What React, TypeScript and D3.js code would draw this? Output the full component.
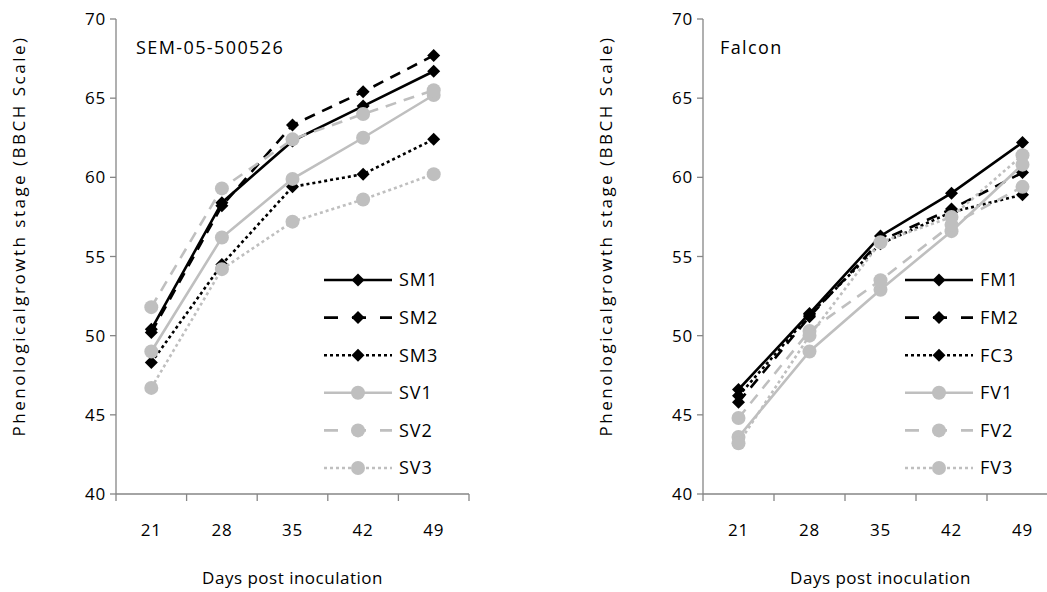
import React from "react";
import * as d3 from "d3";

const days = ["21", "28", "35", "42", "49"];
const yTicks = [40, 45, 50, 55, 60, 65, 70];

const leftNames = ["SM1", "SM2", "SM3", "SV1", "SV2", "SV3"];
const SM1 = [50.4, 58.4, 62.3, 64.5, 66.7];
const SM2 = [50.2, 58.2, 63.3, 65.4, 67.7];
const SM3 = [48.3, 54.5, 59.4, 60.2, 62.4];
const SV1 = [49.0, 56.2, 59.9, 62.5, 65.2];
const SV2 = [51.8, 59.3, 62.4, 64.0, 65.5];
const SV3 = [46.7, 54.2, 57.2, 58.6, 60.2];

const rightNames = ["FM1", "FM2", "FC3", "FV1", "FV2", "FV3"];
const FM1 = [46.6, 51.4, 56.3, 59.0, 62.2];
const FM2 = [45.8, 51.2, 56.0, 58.0, 60.3];
const FC3 = [46.2, 51.3, 55.8, 57.8, 58.9];
const FV1 = [43.6, 49.0, 52.9, 56.6, 60.8];
const FV2 = [44.8, 50.3, 53.5, 57.0, 59.4];
const FV3 = [43.2, 50.0, 55.9, 57.5, 61.4];

const styles = [
  { color: "#000000", dash: null, marker: "diamond" },
  { color: "#000000", dash: "11,8", marker: "diamond" },
  { color: "#000000", dash: "3,3", marker: "diamond" },
  { color: "#bfbfbf", dash: null, marker: "circle" },
  { color: "#bfbfbf", dash: "11,8", marker: "circle" },
  { color: "#bfbfbf", dash: "3,3", marker: "circle" },
];

const FONT = "'Open Sans', sans-serif";
const AXIS = "#868686";

function Marker({ x, y, kind, color }) {
  if (kind === "diamond") {
    const s = 6.5;
    return <path d={`M${x},${y - s}L${x + s},${y}L${x},${y + s}L${x - s},${y}Z`} fill={color} />;
  }
  return <circle cx={x} cy={y} r={7} fill={color} />;
}

function Panel({ x0, x1, yTop, yBot, names, series, label, titleX, labelX, legOff, legTextOff }) {
  const xs = d3.scaleBand().domain(days).range([x0, x1]).padding(0);
  const ys = d3.scaleLinear().domain([40, 70]).range([yBot, yTop]);
  const cx = (d) => xs(d) + xs.bandwidth() / 2;
  const line = d3.line().x((d, i) => cx(days[i])).y((d) => ys(d));
  const legX = x0 + legOff;
  const legY0 = 280;
  const legStep = 37.6;
  return (
    <g>
      <line x1={x0} x2={x0} y1={yTop} y2={yBot} stroke={AXIS} strokeWidth={1.3} />
      {yTicks.map((t) => (
        <g key={t}>
          <line x1={x0 - 6} x2={x0} y1={ys(t)} y2={ys(t)} stroke={AXIS} strokeWidth={1.3} />
          <text x={x0 - 10} y={ys(t)} dy="0.36em" textAnchor="end" fontSize={17} letterSpacing={0.8} fontFamily={FONT} fill="#000">
            {t}
          </text>
        </g>
      ))}
      <line x1={x0} x2={x1} y1={yBot} y2={yBot} stroke={AXIS} strokeWidth={1.3} />
      {days.map((d) => (
        <line key={"t" + d} x1={xs(d)} x2={xs(d)} y1={yBot} y2={yBot + 7} stroke={AXIS} strokeWidth={1.3} />
      ))}
      <line x1={x1} x2={x1} y1={yBot} y2={yBot + 7} stroke={AXIS} strokeWidth={1.3} />
      {days.map((d) => (
        <text key={"l" + d} x={cx(d)} y={yBot + 42} textAnchor="middle" fontSize={17} letterSpacing={0.8} fontFamily={FONT} fill="#000">
          {d}
        </text>
      ))}
      <text x={(x0 + x1) / 2} y={584} textAnchor="middle" fontSize={17} letterSpacing={0.5} fontFamily={FONT} fill="#000">
        Days post inoculation
      </text>
      <text
        transform={`translate(${labelX},${236}) rotate(-90)`}
        textAnchor="middle"
        fontSize={17}
        letterSpacing={2.5}
        fontFamily={FONT}
        fill="#000"
      >
        Phenologicalgrowth stage  (BBCH Scale)
      </text>
      <text x={titleX} y={54} fontSize={18} letterSpacing={1.4} fontFamily={FONT} fill="#000">
        {label}
      </text>
      {series.map((vals, i) => (
        <g key={names[i]}>
          <path
            d={line(vals)}
            fill="none"
            stroke={styles[i].color}
            strokeWidth={2.6}
            strokeDasharray={styles[i].dash || undefined}
          />
          {vals.map((v, j) => (
            <Marker key={j} x={cx(days[j])} y={ys(v)} kind={styles[i].marker} color={styles[i].color} />
          ))}
        </g>
      ))}
      {names.map((n, i) => {
        const y = legY0 + i * legStep;
        return (
          <g key={"leg" + n}>
            <line
              x1={legX}
              x2={legX + 68}
              y1={y}
              y2={y}
              stroke={styles[i].color}
              strokeWidth={2.6}
              strokeDasharray={styles[i].dash ? (i % 3 === 1 ? "14,14" : "3,3") : undefined}
            />
            <Marker x={legX + 34} y={y} kind={styles[i].marker} color={styles[i].color} />
            <text x={legX + legTextOff} y={y} dy="0.36em" fontSize={18} letterSpacing={1} fontFamily={FONT} fill="#000">
              {n}
            </text>
          </g>
        );
      })}
    </g>
  );
}

export default function App() {
  return (
    <svg
      width={1047}
      height={592}
      style={{ position: "absolute", left: 0, top: 0, background: "#fff" }}
    >
      <rect width={1047} height={592} fill="#fff" />
      <Panel
        x0={116}
        x1={469}
        yTop={19}
        yBot={494}
        names={leftNames}
        series={[SM1, SM2, SM3, SV1, SV2, SV3]}
        label="SEM-05-500526"
        titleX={136}
        labelX={25}
        legOff={208}
        legTextOff={75}
      />
      <Panel
        x0={703}
        x1={1058}
        yTop={19}
        yBot={494}
        names={rightNames}
        series={[FM1, FM2, FC3, FV1, FV2, FV3]}
        label="Falcon"
        titleX={720}
        labelX={612}
        legOff={202}
        legTextOff={75}
      />
    </svg>
  );
}
